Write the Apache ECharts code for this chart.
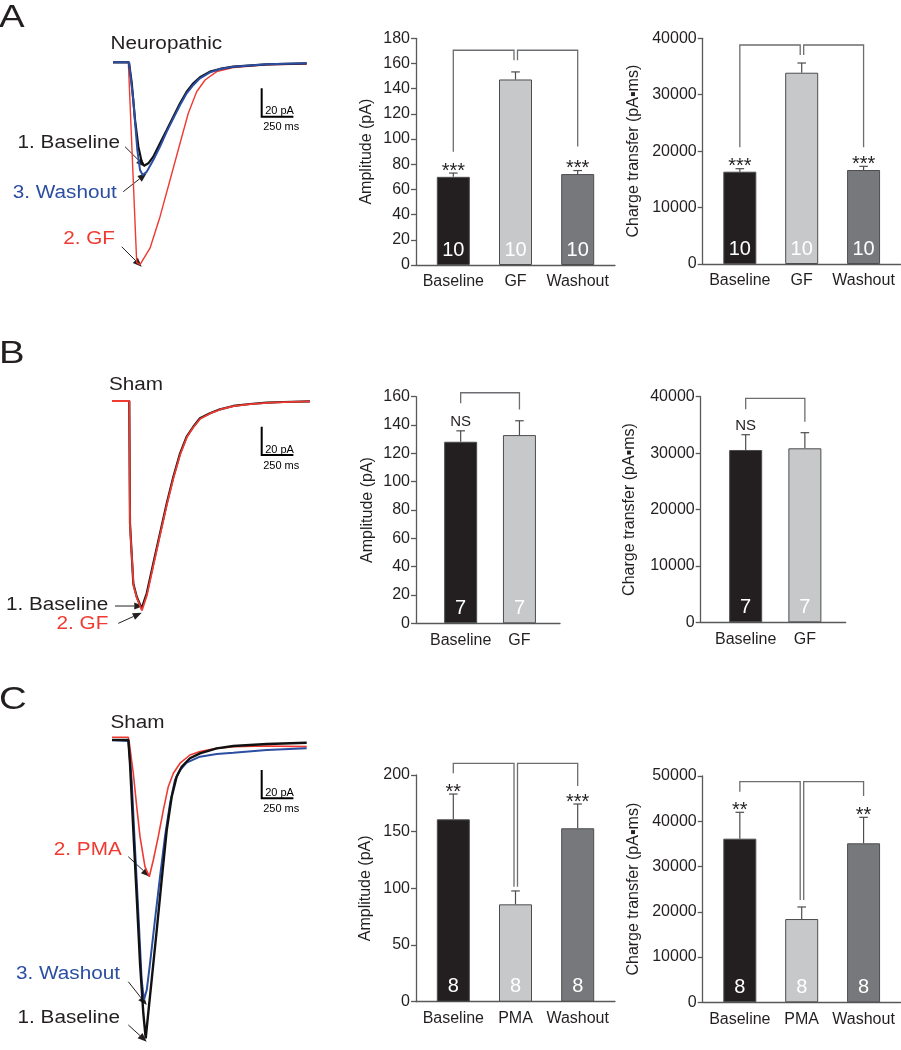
<!DOCTYPE html>
<html><head><meta charset="utf-8">
<script src="https://cdn.jsdelivr.net/npm/echarts@6/dist/echarts.min.js"></script>
<style>html,body{margin:0;padding:0;background:#fff}#c{width:901px;height:1050px}</style>
</head><body><div id="c"></div>
<script>
// ================= DATA =================
// Representative current traces: [time (ms), current (pA)]
const traceA_baseline = [[0,0],[126,0],[134,-1.2],[148,-14.8],[174,-40.8],[200,-59.6],[226,-70.2],[245,-73.1],[279,-71.4],[318,-66.7],[371,-57.2],[424,-47.8],[476,-38.4],[529,-29.0],[581,-20.8],[634,-14.8],[686,-10.6],[765,-6.6],[844,-4.7],[949,-3.1],[1213,-1.4],[1528,-0.7]];
const traceA_gf = [[0,0],[121,0],[187,-141.5],[213,-143],[292,-131.4],[371,-109.1],[450,-83.2],[529,-57.2],[594,-36.0],[660,-20.8],[726,-12.5],[818,-6.6],[949,-3.8],[1213,-1.7],[1528,-1.2]];
const traceA_washout = [[0,0],[126,0],[134,-1.0],[160,-26.6],[192,-62.0],[213,-76.1],[234,-79.7],[266,-77.3],[318,-69.0],[371,-59.6],[424,-49.0],[476,-39.6],[529,-30.2],[581,-21.9],[634,-16.0],[686,-11.3],[765,-7.1],[844,-4.7],[949,-3.1],[1213,-1.4],[1528,-0.7]];

const traceB_baseline = [[0,0],[136,0],[142,-86.4],[168,-129.0],[195,-138.3],[234,-146.5],[274,-135.9],[326,-114.7],[379,-93.5],[432,-72.3],[484,-53.5],[537,-37.0],[589,-25.2],[641,-18.2],[694,-12.2],[773,-8.7],[852,-5.9],[957,-3.5],[1089,-2.1],[1221,-1.2],[1352,-0.7],[1562,-0.2]];
const traceB_gf = [[0,0],[137,0],[142,-88],[170,-130.5],[197,-139.5],[236,-148],[276,-137],[328,-115.5],[381,-94],[434,-72.8],[486,-54],[539,-37.5],[591,-25.5],[643,-18.4],[696,-12.5],[775,-8.8],[854,-6.0],[959,-3.6],[1091,-2.2],[1223,-1.3],[1354,-0.8],[1562,-0.3]];

const traceC_baseline = [[0,0],[129,0],[142,-16.5],[168,-63.6],[195,-110.7],[221,-157.8],[247,-193.1],[266,-210.8],[286,-193.1],[313,-169.6],[353,-134.3],[392,-98.9],[432,-63.6],[471,-40.1],[510,-25.9],[550,-18.9],[615,-12.9],[694,-9.4],[826,-5.9],[957,-4.2],[1221,-2.8],[1536,-1.9]];
const traceC_pma = [[0,1.9],[129,1.9],[137,-2.3],[168,-23.5],[195,-47.1],[221,-68.3],[260,-89.5],[294,-96.6],[326,-84.8],[365,-68.3],[405,-49.5],[444,-33.0],[484,-23.5],[537,-16.4],[615,-10.6],[694,-8.2],[826,-5.9],[957,-4.7],[1221,-4.2],[1536,-4.7]];
const traceC_washout = [[0,0],[129,-0.7],[155,-28.3],[181,-75.4],[208,-122.5],[234,-169.6],[252,-183.7],[274,-176.7],[300,-157.8],[339,-127.2],[379,-96.6],[418,-68.3],[458,-44.7],[497,-28.3],[537,-21.2],[589,-16.0],[694,-11.8],[826,-9.9],[957,-9.0],[1221,-7.1],[1536,-5.9]];

const scaleBarMs = 250;
const scaleBarPA = 20;

// Bar charts: means, SEM, n, significance, comparison brackets [from, to, top, fromLegEnd, toLegEnd]
const catsA = ['Baseline', 'GF', 'Washout'];
const ampA_mean = [70.0, 147.3, 72.2];
const ampA_sem = [3.0, 6.0, 2.8];
const ampA_n = [10, 10, 10];
const ampA_sig = ['***', '', '***'];
const ampA_brackets = [[0, 1, 170.5, 90, 162.5], [1, 2, 170.5, 162.5, 94]];
const chgA_mean = [16360, 33900, 16660];
const chgA_sem = [530, 1720, 650];
const chgA_n = [10, 10, 10];
const chgA_sig = ['***', '', '***'];
const chgA_brackets = [[0, 1, 38810, 20680, 37040], [1, 2, 38810, 37040, 20680]];

const catsB = ['Baseline', 'GF'];
const ampB_mean = [128.2, 132.9];
const ampB_sem = [7.7, 10.1];
const ampB_n = [7, 7];
const ampB_sig = ['NS', ''];
const ampB_brackets = [[0, 1, 162.8, 155.3, 151]];
const chgB_mean = [30550, 30850];
const chgB_sem = [2710, 2770];
const chgB_n = [7, 7];
const chgB_sig = ['NS', ''];
const chgB_brackets = [[0, 1, 39720, 37770, 35570]];

const catsC = ['Baseline', 'PMA', 'Washout'];
const ampC_mean = [160.9, 85.9, 153.0];
const ampC_sem = [22.3, 11.8, 21.4];
const ampC_n = [8, 8, 8];
const ampC_sig = ['**', '', '***'];
const ampC_brackets = [[0, 1, 210.3, 201.5, 101.5], [1, 2, 210.3, 101.5, 190.3]];
const chgC_mean = [36150, 18400, 35130];
const chgC_sem = [5830, 2660, 5740];
const chgC_n = [8, 8, 8];
const chgC_sig = ['**', '', '**'];
const chgC_brackets = [[0, 1, 48740, 46530, 22600], [1, 2, 48740, 22600, 45580]];

// ================= STYLE / BUILD =================
const FONT = "'Liberation Sans', Arial, Helvetica, sans-serif";
const INK = '#231f20', AXIS = '#58595b', BRK = '#6d6e71', EDGE = '#4d4d4f';
const BAR_COLORS = ['#231f20', '#c7c8ca', '#77787b'];
const RED = '#ee3a31', BLUE = '#2b4ea2', BLACK = '#111';

const grids = [], xAxes = [], yAxes = [], series = [];

function minPoint(arr) {
  let m = arr[0];
  arr.forEach(p => { if (p[1] < m[1]) m = p; });
  return m;
}
function txtStyle(text, x, y, font, fill, align, valign) {
  return {text, x, y, font, fill, textAlign: align, textVerticalAlign: valign, align, verticalAlign: valign};
}

function addTracePanel(p) {
  const gi = grids.length;
  grids.push({left: p.left, top: p.top, width: p.width, height: p.height, containLabel: false, outerBoundsMode: 'none'});
  xAxes.push({gridIndex: gi, type: 'value', min: 0, max: 1600, show: false});
  yAxes.push({gridIndex: gi, type: 'value', min: p.ymin, max: p.ymax, show: false});
  p.traces.forEach(t => series.push({
    type: 'line', xAxisIndex: gi, yAxisIndex: gi, data: t.data, showSymbol: false, symbol: 'none',
    lineStyle: {color: t.color, width: t.width}, clip: false, silent: true, animation: false
  }));
  // scale bar
  series.push({
    type: 'custom', xAxisIndex: gi, yAxisIndex: gi, data: [p.bar], clip: false, silent: true, animation: false,
    renderItem: (params, api) => {
      const x0 = api.value(0), y0 = api.value(1);
      const c = api.coord([x0, y0]);
      const top = api.coord([x0, y0 + scaleBarPA]);
      const right = api.coord([x0 + scaleBarMs, y0]);
      return {type: 'group', children: [
        {type: 'polyline', shape: {points: [top, c, right]}, style: {stroke: '#000', lineWidth: 2, fill: null}},
        {type: 'text', style: txtStyle(scaleBarPA + ' pA', c[0] + 3.5, c[1] - 5.5, '11px ' + FONT, '#000', 'left', 'middle')},
        {type: 'text', style: txtStyle(scaleBarMs + ' ms', c[0] + 1.5, c[1] + 10.5, '11px ' + FONT, '#000', 'left', 'middle')}
      ]};
    }
  });
  // arrows pointing at trace peaks
  series.push({
    type: 'custom', xAxisIndex: gi, yAxisIndex: gi, clip: false, silent: true, animation: false,
    data: p.arrows.map(a => minPoint(a.trace).slice()),
    renderItem: (params, api) => {
      const a = p.arrows[params.dataIndex];
      const c = api.coord([api.value(0), api.value(1)]);
      const tip = [c[0] + a.nudge[0], c[1] + a.nudge[1]];
      const tail = [tip[0] + a.d[0], tip[1] + a.d[1]];
      const ang = Math.atan2(tip[1] - tail[1], tip[0] - tail[0]);
      const L = 9, W = 3.6;
      const base = [tip[0] - L * Math.cos(ang), tip[1] - L * Math.sin(ang)];
      const l = [base[0] + W * Math.sin(ang), base[1] - W * Math.cos(ang)];
      const r = [base[0] - W * Math.sin(ang), base[1] + W * Math.cos(ang)];
      return {type: 'group', children: [
        {type: 'line', shape: {x1: tail[0], y1: tail[1], x2: base[0], y2: base[1]}, style: {stroke: INK, lineWidth: 1}},
        {type: 'polygon', shape: {points: [tip, l, r]}, style: {fill: INK}}
      ]};
    }
  });
}

function addBarPanel(p) {
  const gi = grids.length;
  grids.push({left: p.left, top: p.top, width: p.width, height: p.height, containLabel: false, outerBoundsMode: 'none'});
  const idx = p.cats.map((_, i) => i);
  xAxes.push({
    gridIndex: gi, type: 'value', min: p.xmin, max: p.xmax,
    axisLine: {show: true, onZero: false, lineStyle: {color: AXIS, width: 1.3}},
    axisTick: {show: false}, splitLine: {show: false},
    axisLabel: {customValues: idx, formatter: v => p.cats[Math.round(v)], fontSize: 16, fontFamily: FONT, color: INK, margin: 9}
  });
  yAxes.push({
    gridIndex: gi, type: 'value', min: 0, max: p.ymax, interval: p.interval,
    name: p.title, nameLocation: 'middle', nameGap: p.nameGap,
    nameTextStyle: {fontSize: 16, fontFamily: FONT, color: INK},
    axisLine: {show: true, onZero: false, lineStyle: {color: AXIS, width: 1.3}},
    axisTick: {show: true, inside: false, length: 5, lineStyle: {color: AXIS, width: 1.3}},
    splitLine: {show: false},
    axisLabel: {fontSize: 16, fontFamily: FONT, color: INK, margin: 6, formatter: v => String(v)}
  });
  series.push({
    type: 'bar', xAxisIndex: gi, yAxisIndex: gi, barWidth: 33, animation: false, silent: true,
    data: p.mean.map((v, i) => ({value: [i, v], itemStyle: {color: BAR_COLORS[i], borderColor: EDGE, borderWidth: 1}})),
    label: {show: true, position: 'insideBottom', distance: 5, formatter: prm => String(p.n[prm.dataIndex]),
      color: '#fff', fontSize: 20, fontFamily: FONT}
  });
  series.push({
    type: 'custom', xAxisIndex: gi, yAxisIndex: gi, clip: false, silent: true, animation: false,
    data: p.mean.map((v, i) => [i, v, p.sem[i]]), encode: {x: 0, y: 1},
    renderItem: (params, api) => {
      const i = params.dataIndex;
      const x = api.value(0), m = api.value(1), s = api.value(2);
      const a = api.coord([x, m]), b = api.coord([x, m + s]);
      const ch = [
        {type: 'line', shape: {x1: a[0], y1: a[1], x2: b[0], y2: b[1]}, style: {stroke: EDGE, lineWidth: 1.2}},
        {type: 'line', shape: {x1: b[0] - 4.3, y1: b[1], x2: b[0] + 4.3, y2: b[1]}, style: {stroke: EDGE, lineWidth: 1.2}}
      ];
      const sig = p.sig[i];
      if (sig) {
        const ns = sig === 'NS';
        ch.push({type: 'text', style: txtStyle(sig, b[0], b[1] - (ns ? 9 : 2), (ns ? '15px ' : '20px ') + FONT, INK, 'center', 'middle')});
      }
      return {type: 'group', children: ch};
    }
  });
  const shared = p.brackets.length > 1 ? p.brackets[0][1] : -1;
  series.push({
    type: 'custom', xAxisIndex: gi, yAxisIndex: gi, clip: false, silent: true, animation: false,
    data: p.brackets, encode: {x: [0, 1], y: [2, 3, 4]},
    renderItem: (params, api) => {
      const br = p.brackets[params.dataIndex];
      const t1 = api.coord([br[0], br[2]]), b1 = api.coord([br[0], br[3]]);
      const t2 = api.coord([br[1], br[2]]), b2 = api.coord([br[1], br[4]]);
      const x1 = t1[0] + (br[0] === shared ? 2 : 0);
      const x2 = t2[0] + (br[1] === shared ? -1.5 : 0);
      return {type: 'polyline', shape: {points: [[x1, b1[1]], [x1, t1[1]], [x2, t2[1]], [x2, b2[1]]]},
        style: {stroke: BRK, lineWidth: 1.3, fill: null}};
    }
  });
}

const AMP = 'Amplitude (pA)', CHG = 'Charge transfer (pA\u25AAms)';

// Row A
addTracePanel({left: 113, top: 48.15, width: 202.8, height: 240.55, ymin: -160, ymax: 10, bar: [1173, -38.4],
  traces: [
    {data: traceA_gf, color: RED, width: 1.4},
    {data: traceA_baseline, color: BLACK, width: 2.2},
    {data: traceA_washout, color: BLUE, width: 2.0}
  ],
  arrows: [
    {trace: traceA_baseline, nudge: [1, 1], d: [-20, -20]},
    {trace: traceA_washout, nudge: [4, -1.8], d: [-23.4, 18.4]},
    {trace: traceA_gf, nudge: [1.7, 2.1], d: [-20, -20]}
  ]});
addBarPanel({left: 416, top: 38.3, width: 199, height: 226.7, xmin: -0.6, xmax: 2.6, ymax: 180, interval: 20,
  title: AMP, nameGap: 41, cats: catsA, mean: ampA_mean, sem: ampA_sem, n: ampA_n, sig: ampA_sig, brackets: ampA_brackets});
addBarPanel({left: 702.7, top: 38.3, width: 198, height: 225.7, xmin: -0.6, xmax: 2.6, ymax: 40000, interval: 10000,
  title: CHG, nameGap: 61, cats: catsA, mean: chgA_mean, sem: chgA_sem, n: chgA_n, sig: chgA_sig, brackets: chgA_brackets});

// Row B
addTracePanel({left: 112, top: 386.85, width: 202.8, height: 233.5, ymin: -155, ymax: 10, bar: [1181, -38.2],
  traces: [
    {data: traceB_baseline, color: BLACK, width: 2.2},
    {data: traceB_gf, color: RED, width: 1.8}
  ],
  arrows: [
    {trace: traceB_baseline, nudge: [1.6, -2.3], d: [-28.3, 0]},
    {trace: traceB_gf, nudge: [-0.2, 2.3], d: [-23.4, 10.6]}
  ]});
addBarPanel({left: 416, top: 396.7, width: 144, height: 226.6, xmin: -0.76, xmax: 1.69, ymax: 160, interval: 20,
  title: AMP, nameGap: 40, cats: catsB, mean: ampB_mean, sem: ampB_sem, n: ampB_n, sig: ampB_sig, brackets: ampB_brackets});
addBarPanel({left: 700.7, top: 396.7, width: 145, height: 225.6, xmin: -0.76, xmax: 1.69, ymax: 40000, interval: 10000,
  title: CHG, nameGap: 63, cats: catsB, mean: chgB_mean, sem: chgB_sem, n: chgB_n, sig: chgB_sig, brackets: chgB_brackets});

// Row C
addTracePanel({left: 112, top: 725.85, width: 202.8, height: 325.45, ymin: -220, ymax: 10, bar: [1181, -41.2],
  traces: [
    {data: traceC_pma, color: RED, width: 1.6},
    {data: traceC_washout, color: BLUE, width: 2.0},
    {data: traceC_baseline, color: BLACK, width: 2.4}
  ],
  arrows: [
    {trace: traceC_pma, nudge: [0.7, 0], d: [-21.7, -20]},
    {trace: traceC_washout, nudge: [2.8, 5.1], d: [-18.4, -23.3]},
    {trace: traceC_baseline, nudge: [1, 3.4], d: [-18.4, -16.7]}
  ]});
addBarPanel({left: 416, top: 775, width: 199, height: 226.7, xmin: -0.6, xmax: 2.6, ymax: 200, interval: 50,
  title: AMP, nameGap: 42, cats: catsC, mean: ampC_mean, sem: ampC_sem, n: ampC_n, sig: ampC_sig, brackets: ampC_brackets});
addBarPanel({left: 702.7, top: 776, width: 198, height: 226.3, xmin: -0.6, xmax: 2.6, ymax: 50000, interval: 10000,
  title: CHG, nameGap: 61, cats: catsC, mean: chgC_mean, sem: chgC_sem, n: chgC_n, sig: chgC_sig, brackets: chgC_brackets});

// Text annotations
const labels = [
  {t: 'A', x: -1, y: 18.5, size: 32, sx: 1.2},
  {t: 'Neuropathic', x: 110.5, y: 43.7},
  {t: '1. Baseline', x: 120, y: 142.8, align: 'right'},
  {t: '3. Washout', x: 116.7, y: 193.3, align: 'right', color: BLUE},
  {t: '2. GF', x: 115, y: 239.2, align: 'right', color: RED},
  {t: 'B', x: -1, y: 354, size: 32, sx: 1.2},
  {t: 'Sham', x: 109, y: 384.7},
  {t: '1. Baseline', x: 108.3, y: 605.5, align: 'right'},
  {t: '2. GF', x: 108.3, y: 623.7, align: 'right', color: RED},
  {t: 'C', x: -1, y: 699.7, size: 32, sx: 1.2},
  {t: 'Sham', x: 110.5, y: 723.3},
  {t: '2. PMA', x: 121.7, y: 849.7, align: 'right', color: RED},
  {t: '3. Washout', x: 120, y: 974, align: 'right', color: BLUE},
  {t: '1. Baseline', x: 120, y: 1018.3, align: 'right'}
];
const graphic = labels.map(l => ({
  type: 'text', x: l.x, y: l.y, scaleX: l.sx || 1.15, silent: true,
  style: txtStyle(l.t, 0, 0, (l.size || 18) + 'px ' + FONT, l.color || INK, l.align || 'left', 'middle')
}));

const chart = echarts.init(document.getElementById('c'), null, {renderer: 'canvas'});
chart.setOption({
  backgroundColor: '#fff', animation: false,
  grid: grids, xAxis: xAxes, yAxis: yAxes, series, graphic
});
</script></body></html>
